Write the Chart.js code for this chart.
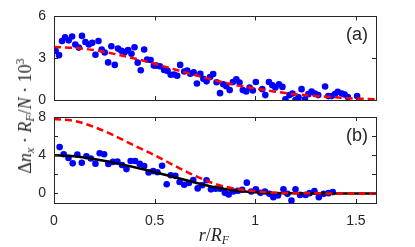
<!DOCTYPE html>
<html>
<head>
<meta charset="utf-8">
<script src="https://cdn.jsdelivr.net/npm/chart.js@4/dist/chart.umd.min.js"></script>
<style>
  body { margin: 0; background: #fff; }
  #wrap { position: relative; width: 415px; height: 247px; overflow: hidden; }
  canvas { position: absolute; left: 0; top: 0; }
  .math { position: absolute; font-family: "Liberation Serif", serif; font-size: 18px; color: #262626; white-space: nowrap; line-height: 1; }
  .math sub, .math sup { font-size: 12px; line-height: 0; }
  .math sub { vertical-align: -3px; }
  #ylab { left: 25px; top: 116px; transform: translate(-50%, -50%) rotate(-90deg); }
  #xlab { left: 214px; top: 226px; transform: translateX(-50%); }
  .panel { position: absolute; font-family: "Liberation Sans", Arial, sans-serif; font-size: 18px; color: #262626; line-height: 1; }
</style>
</head>
<body>
<div id="wrap">
  <canvas id="chartA" width="415" height="247"></canvas>
  <canvas id="chartB" width="415" height="247"></canvas>
  <div id="ylab" class="math">&Delta;<i>n</i><sub><i>x</i></sub> &middot; <i>R</i><sub><i>F</i></sub>/<i>N</i> &middot; 10<sup>3</sup></div>
  <div id="xlab" class="math"><i>r</i>/<i>R</i><sub><i>F</i></sub></div>
  <div class="panel" style="right:47px; top:25px;">(a)</div>
  <div class="panel" style="right:47px; top:126px;">(b)</div>
</div>
<script>
// panel (a): measured points
const xA = [0.008,0.025,0.04,0.055,0.073,0.09,0.106,0.123,0.139,0.156,0.173,0.19,0.206,0.221,0.237,0.252,0.269,0.285,0.302,0.318,
  0.335,0.352,0.368,0.385,0.4,0.416,0.431,0.448,0.463,0.48,0.496,0.509,0.526,0.547,0.564,0.58,0.597,0.612,0.627,0.647,
  0.662,0.677,0.694,0.71,0.727,0.742,0.758,0.775,0.791,0.808,0.825,0.841,0.856,0.873,0.889,0.906,0.922,0.938,0.955,0.972,
  0.988,1.003,1.035,1.05,1.068,1.085,1.1,1.118,1.135,1.15,1.17,1.185,1.2,1.215,1.23,1.247,1.264,1.28,1.297,1.313,
  1.347,1.363,1.38,1.396,1.41,1.43,1.444,1.46,1.506];
const yA = [3.53,3.22,4.23,4.5,4.28,4.56,3.98,3.76,4.6,4.16,3.98,4.1,3.25,4.23,3.62,3.41,2.7,3.86,2.52,3.69,
  3.53,3.44,3.58,3.32,3.79,2.68,2.14,3.62,2.91,2.87,2.47,2.47,2.42,2.16,2.09,1.81,1.83,1.74,2.52,2.05,
  2.12,1.88,1.98,1.18,1.88,1.53,1.34,1.65,1.86,1.27,0.49,1.13,0.99,0.71,1.29,1.48,1.25,0.71,0.61,0.9,
  0.68,1.29,0.78,0.35,1.29,1.06,0.9,1.13,0.94,0.05,0.35,0.47,0.0,0.19,0.78,0.05,0.42,0.61,0.47,0.35,
  0.97,0.28,0.28,0.42,0.59,0.47,0.4,0.21,0.28];

// panel (b): measured points
const xB = [0.028,0.048,0.072,0.093,0.116,0.138,0.161,0.183,0.206,0.227,0.249,0.27,0.293,0.315,0.338,0.36,0.381,0.403,0.426,0.448,
  0.47,0.493,0.514,0.537,0.56,0.58,0.603,0.624,0.647,0.67,0.692,0.714,0.736,0.758,0.78,0.803,0.826,0.849,0.868,0.891,
  0.914,0.935,0.958,0.98,1.003,1.026,1.048,1.07,1.09,1.113,1.14,1.16,1.18,1.2,1.223,1.25,1.27,1.294,1.316,1.34,
  1.364,1.385];
const yB = [4.85,4.1,3.72,3.15,4.07,3.22,3.9,3.65,3.12,4.21,4.1,3.09,3.3,3.33,2.98,2.55,3.4,3.4,3.09,2.87,
  2.19,2.34,2.22,2.9,0.96,1.91,1.84,1.2,0.91,1.1,1.41,0.53,0.85,1.38,0.43,0.49,0.49,0.06,-0.1,0.21,
  0.28,0.38,1.13,0.21,0.43,0.06,0.21,-0.04,-0.39,-0.21,0.43,-0.04,-0.74,0.43,-0.15,-0.15,0.03,0.24,-0.39,-0.04,
  0.03,0.14];

// model curves
const xLine = [0,0.1,0.2,0.3,0.4,0.5,0.6,0.7,0.8,0.9,1.0,1.1,1.2,1.3,1.4,1.5,1.6];
const redA  = [3.8,3.74,3.58,3.31,2.98,2.6,2.19,1.79,1.41,1.07,0.83,0.6,0.42,0.29,0.19,0.1,0.06];
const redB  = [7.8,7.6,6.95,6.05,5.0,4.0,2.9,1.85,1.0,0.5,0.22,0.08,0.03,0.01,0,0,0];
const blackB = [4.0,3.9,3.6,3.2,2.75,2.25,1.7,1.15,0.65,0.32,0.13,0.04,0.01,0,0,0,0];

// ticks
const xTicks = [0, 0.5, 1, 1.5];
const yTicksA = [0, 3, 6];
const yTicksB = [0, 2, 4, 6, 8];

const pts = (xs, ys) => xs.map((x, i) => ({ x: x, y: ys[i] }));
const axisColor = '#262626';
const tickFont = { family: 'Liberation Sans', size: 14 };

// box with inward tick marks, like the MATLAB axes
const frameTicks = {
  id: 'frameTicks',
  afterDraw(chart, args, opts) {
    const { ctx, chartArea: a, scales } = chart;
    ctx.save();
    ctx.strokeStyle = axisColor;
    ctx.lineWidth = 1;
    ctx.beginPath();
    for (const v of opts.xt) {
      const px = Math.round(scales.x.getPixelForValue(v)) + 0.5;
      ctx.moveTo(px, a.bottom); ctx.lineTo(px, a.bottom - 4);
      ctx.moveTo(px, a.top); ctx.lineTo(px, a.top + 4);
    }
    for (const v of opts.yt) {
      const py = Math.round(scales.y.getPixelForValue(v)) + 0.5;
      ctx.moveTo(a.left, py); ctx.lineTo(a.left + 4, py);
      ctx.moveTo(a.right, py); ctx.lineTo(a.right - 4, py);
    }
    ctx.stroke();
    ctx.strokeRect(Math.round(a.left) + 0.5, Math.round(a.top) + 0.5,
      Math.round(a.right - a.left), Math.round(a.bottom - a.top));
    ctx.restore();
  }
};

function lineSet(data, color, dash, order) {
  return {
    data: data, showLine: true, borderColor: color, backgroundColor: color,
    borderWidth: 2.5, borderDash: dash, pointRadius: 0, order: order,
    cubicInterpolationMode: 'monotone'
  };
}

function dotSet(data) {
  return {
    data: data, pointRadius: 3.3, pointBorderWidth: 0,
    backgroundColor: '#0000ff', borderColor: '#0000ff', order: 3
  };
}

new Chart(document.getElementById('chartA'), {
  type: 'scatter',
  data: {
    datasets: [
      dotSet(pts(xA, yA)),
      lineSet(pts(xLine, redA), '#ff0000', [7, 4], 1)
    ]
  },
  options: {
    responsive: false,
    animation: false,
    layout: { padding: { left: 0, right: 39, top: 15, bottom: 147 } },
    scales: {
      x: { type: 'linear', min: 0, max: 1.6, display: false },
      y: {
        min: 0, max: 6,
        afterBuildTicks: s => { s.ticks = yTicksA.map(v => ({ value: v })); },
        afterFit: s => { s.width = 54; },
        grid: { display: false, drawTicks: false },
        border: { display: false },
        ticks: { color: axisColor, font: tickFont, padding: 8 }
      }
    },
    plugins: {
      legend: { display: false },
      tooltip: { enabled: false },
      frameTicks: { xt: xTicks, yt: yTicksA }
    }
  },
  plugins: [frameTicks]
});

new Chart(document.getElementById('chartB'), {
  type: 'scatter',
  data: {
    datasets: [
      dotSet(pts(xB, yB)),
      lineSet(pts(xLine, blackB), '#000000', [], 2),
      lineSet(pts(xLine, redB), '#ff0000', [7, 4], 1)
    ]
  },
  options: {
    responsive: false,
    animation: false,
    layout: { padding: { left: 0, right: 39, top: 117, bottom: 0 } },
    scales: {
      x: {
        type: 'linear', min: 0, max: 1.6,
        afterBuildTicks: s => { s.ticks = xTicks.map(v => ({ value: v })); },
        afterFit: s => { s.height = 44; },
        grid: { display: false, drawTicks: false },
        border: { display: false },
        ticks: { color: axisColor, font: tickFont, padding: 10, maxRotation: 0, callback: v => String(v) }
      },
      y: {
        min: -1, max: 8,
        afterBuildTicks: s => { s.ticks = yTicksB.map(v => ({ value: v })); },
        afterFit: s => { s.width = 54; },
        grid: { display: false, drawTicks: false },
        border: { display: false },
        ticks: { color: axisColor, font: tickFont, padding: 8, callback: v => (v % 4 === 0 ? String(v) : '') }
      }
    },
    plugins: {
      legend: { display: false },
      tooltip: { enabled: false },
      frameTicks: { xt: xTicks, yt: yTicksB }
    }
  },
  plugins: [frameTicks]
});
</script>
</body>
</html>
